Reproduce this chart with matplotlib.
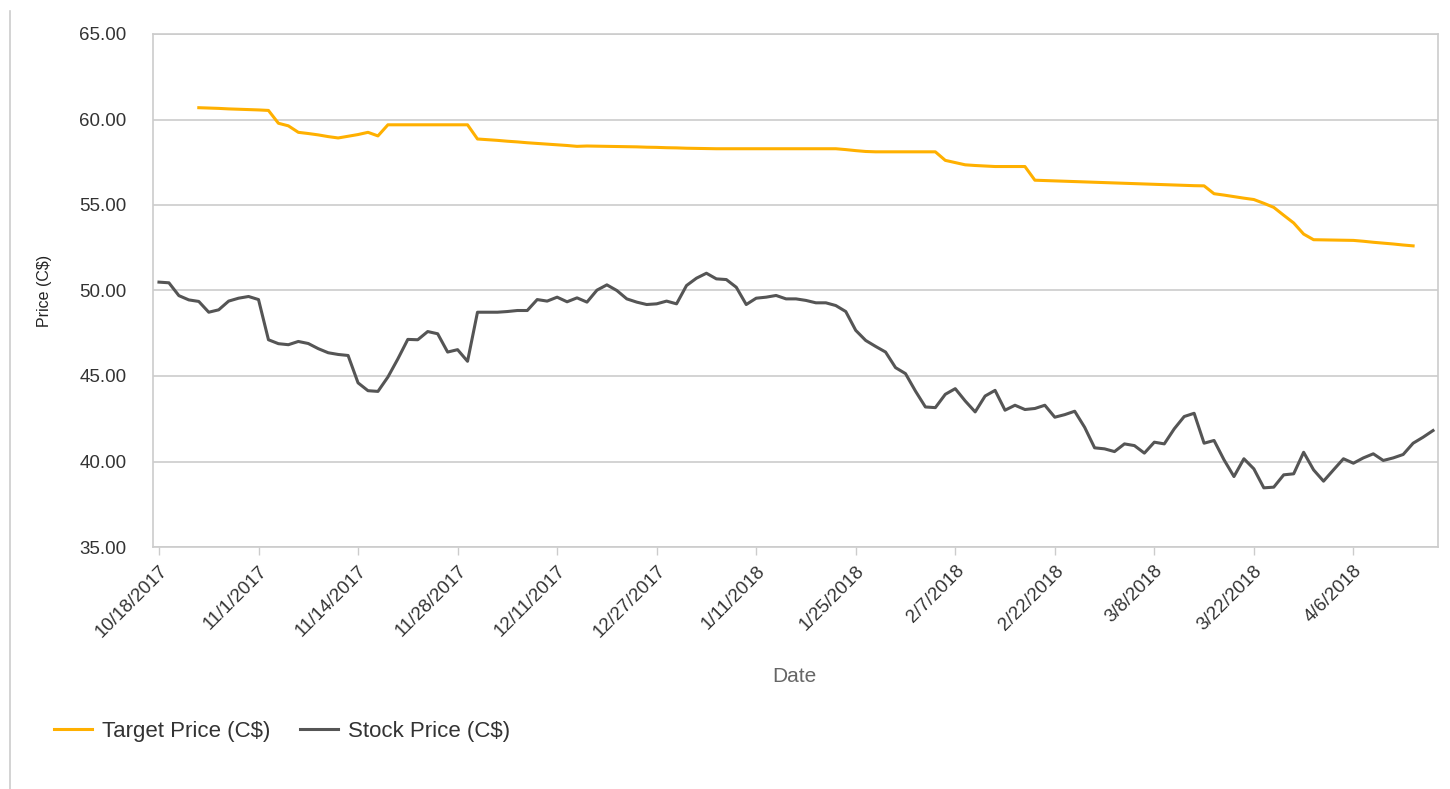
import matplotlib
matplotlib.use("Agg")
import matplotlib.pyplot as plt
from matplotlib.lines import Line2D

plt.rcParams['font.family'] = ['Liberation Sans', 'DejaVu Sans']

# tick labels, one every 10 trading days
tick_labels = ['10/18/2017', '11/1/2017', '11/14/2017', '11/28/2017', '12/11/2017',
               '12/27/2017', '1/11/2018', '1/25/2018', '2/7/2018', '2/22/2018',
               '3/8/2018', '3/22/2018', '4/6/2018']

# daily closing price, C$
stock_price = [
    50.49, 50.45, 49.70, 49.45, 49.36, 48.73, 48.87, 49.38, 49.55, 49.65,
    49.47, 47.12, 46.89, 46.83, 47.02, 46.90, 46.60, 46.36, 46.26, 46.20,
    44.60, 44.14, 44.10, 44.94, 46.00, 47.14, 47.12, 47.60, 47.47, 46.40,
    46.54, 45.86, 48.73, 48.73, 48.73, 48.77, 48.83, 48.83, 49.47, 49.38,
    49.61, 49.34, 49.57, 49.32, 50.02, 50.33, 50.00, 49.51, 49.32, 49.18,
    49.22, 49.38, 49.22, 50.29, 50.72, 51.01, 50.68, 50.64, 50.19, 49.18,
    49.55, 49.61, 49.71, 49.51, 49.51, 49.42, 49.28, 49.28, 49.12, 48.77,
    47.67, 47.08, 46.73, 46.40, 45.49, 45.14, 44.12, 43.19, 43.15, 43.93,
    44.26, 43.54, 42.90, 43.83, 44.16, 43.00, 43.29, 43.04, 43.10, 43.29,
    42.59, 42.74, 42.94, 42.00, 40.80, 40.74, 40.58, 41.03, 40.93, 40.49,
    41.13, 41.03, 41.91, 42.63, 42.82, 41.07, 41.23, 40.10, 39.12, 40.16,
    39.57, 38.46, 38.50, 39.22, 39.28, 40.54, 39.51, 38.85, 39.51, 40.16,
    39.90, 40.21, 40.45, 40.06, 40.21, 40.41, 41.07, 41.42, 41.81,
]

# analyst consensus target, C$ (starts on the 5th day, ends two days early)
target_start = 4
target_price = [
    60.69, 60.67, 60.65, 60.62, 60.60, 60.58, 60.56, 60.53, 59.78, 59.63,
    59.25, 59.18, 59.10, 59.00, 58.92, 59.02, 59.12, 59.25, 59.04, 59.69,
    59.69, 59.69, 59.69, 59.69, 59.69, 59.69, 59.69, 59.69, 58.86, 58.82,
    58.78, 58.73, 58.69, 58.64, 58.60, 58.56, 58.52, 58.48, 58.43, 58.45,
    58.44, 58.43, 58.42, 58.41, 58.40, 58.38, 58.37, 58.35, 58.34, 58.32,
    58.31, 58.30, 58.29, 58.29, 58.29, 58.29, 58.29, 58.29, 58.29, 58.29,
    58.29, 58.29, 58.29, 58.29, 58.29, 58.24, 58.18, 58.13, 58.11, 58.11,
    58.11, 58.11, 58.11, 58.11, 58.11, 57.61, 57.48, 57.35, 57.31, 57.28,
    57.25, 57.25, 57.25, 57.25, 56.45, 56.43, 56.41, 56.39, 56.37, 56.35,
    56.33, 56.31, 56.29, 56.27, 56.25, 56.23, 56.21, 56.19, 56.17, 56.15,
    56.13, 56.12, 55.66, 55.58, 55.49, 55.40, 55.32, 55.10, 54.86, 54.40,
    53.95, 53.30, 52.97, 52.96, 52.95, 52.94, 52.93, 52.88, 52.82, 52.77,
    52.72, 52.66, 52.61,
]

TARGET_COLOR = '#FFB000'
STOCK_COLOR = '#555555'
GRID_COLOR = '#CCCCCC'


def main():
    fig = plt.figure(figsize=(14.5, 7.89), dpi=100)
    ax = fig.add_axes([153 / 1450, 1 - 547 / 789, 1285 / 1450, 513 / 789])

    stock_x = list(range(len(stock_price)))
    target_x = list(range(target_start, target_start + len(target_price)))

    ax.plot(target_x, target_price, color=TARGET_COLOR, lw=2.2, label='Target Price (C$)')
    ax.plot(stock_x, stock_price, color=STOCK_COLOR, lw=2.2, label='Stock Price (C$)')

    ax.set_xlim(-0.6, 128.5)
    ax.set_ylim(35, 65)
    ax.set_yticks(range(35, 66, 5))
    ax.set_yticklabels([f'{v:.2f}' for v in range(35, 66, 5)])
    ax.set_xticks(range(0, 10 * len(tick_labels), 10))
    ax.set_xticklabels(tick_labels, rotation=45, ha='right', va='top',
                       rotation_mode='anchor')

    ax.grid(axis='y', color=GRID_COLOR, lw=1.2)
    ax.set_axisbelow(True)
    for s in ax.spines.values():
        s.set_color(GRID_COLOR)
        s.set_linewidth(1.2)

    ax.tick_params(axis='y', length=0, pad=19, labelsize=13.5, labelcolor='#333333')
    ax.tick_params(axis='x', length=6, width=1, color=GRID_COLOR, pad=5,
                   labelsize=13.5, labelcolor='#333333')

    ax.set_ylabel('Price (C$)', fontsize=11.5, color='#222222')
    ax.yaxis.set_label_coords(-0.0786, 0.5)
    ax.set_xlabel('Date', fontsize=15, color='#666666')
    ax.xaxis.set_label_coords(0.499, -0.234)

    fig.legend(loc='center left', bbox_to_anchor=(45 / 1450, 1 - 731 / 789),
               ncol=2, frameon=False, fontsize=16, handlelength=1.7,
               handletextpad=0.45, columnspacing=1.35, borderaxespad=0)
    for t in fig.legends[0].get_texts():
        t.set_color('#333333')

    # thin container border on the left
    fig.add_artist(Line2D([10 / 1450, 10 / 1450], [0, 1 - 11 / 789],
                          color=GRID_COLOR, lw=1.2, transform=fig.transFigure))

    fig.savefig('out.png', dpi=100)


if __name__ == "__main__":
    main()
